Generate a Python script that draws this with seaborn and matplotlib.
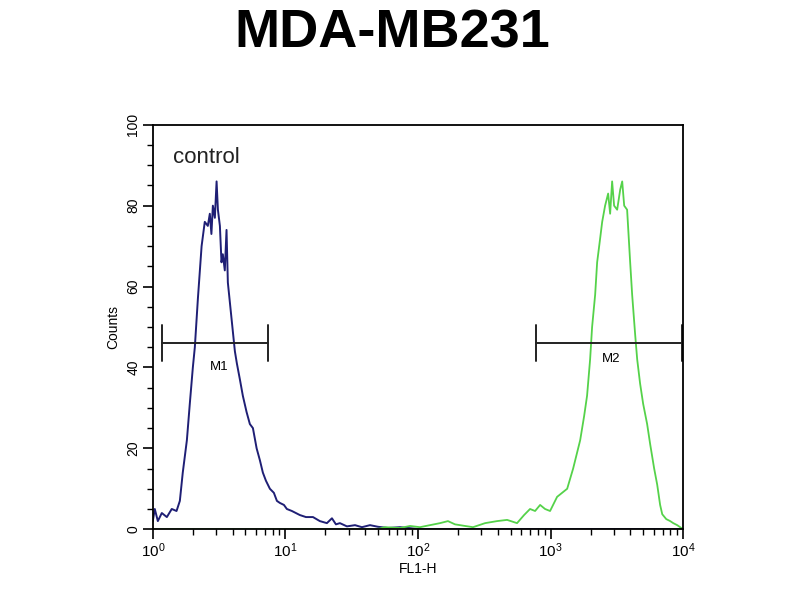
import numpy as np
import pandas as pd
import seaborn as sns
import matplotlib
matplotlib.use("Agg")
from matplotlib import pyplot as plt
from matplotlib.ticker import LogLocator, MultipleLocator

# control histogram (blue): log10(FL1-H) positions and counts
ctrl_log = [0.0, 0.015, 0.038, 0.068, 0.106, 0.143, 0.179, 0.204, 0.226, 0.257,
            0.279, 0.302, 0.317, 0.340, 0.368, 0.392, 0.415, 0.430, 0.442, 0.453,
            0.468, 0.481, 0.491, 0.506, 0.518, 0.528, 0.543, 0.556, 0.566, 0.594,
            0.619, 0.634, 0.657, 0.679, 0.707, 0.732, 0.755, 0.783, 0.808, 0.830,
            0.853, 0.883, 0.913, 0.936, 0.958, 0.989, 1.011, 1.049, 1.079, 1.109,
            1.155, 1.208, 1.260, 1.313, 1.351, 1.381, 1.411, 1.464, 1.525, 1.577,
            1.638, 1.698, 1.774, 1.864, 2.015, 4.0]
ctrl_counts = [2, 5, 2, 4, 3, 5, 4.5, 7, 14, 22,
               31, 40, 45, 57, 70, 76, 75, 78, 73, 80,
               77, 86, 79, 75, 66, 68, 64, 74, 61, 52,
               44, 41, 37, 33, 29, 26, 25, 20, 17, 14,
               12, 10, 9, 7, 6.5, 6, 5, 4.5, 4, 3.5,
               3, 3, 2, 1.5, 2.7, 1.2, 1.5, 0.7, 1, 0.5,
               1, 0.6, 0.3, 0.5, 0, 0]

# MDA-MB231 histogram (green)
samp_log = [0.0, 1.69, 1.75, 1.864, 1.94, 2.015, 2.09, 2.166, 2.226, 2.279,
            2.355, 2.415, 2.506, 2.596, 2.672, 2.747, 2.80, 2.845, 2.883, 2.921,
            2.958, 2.996, 3.049, 3.087, 3.125, 3.17, 3.223, 3.253, 3.275, 3.298,
            3.313, 3.336, 3.351, 3.374, 3.389, 3.411, 3.434, 3.449, 3.464, 3.479,
            3.502, 3.525, 3.540, 3.555, 3.577, 3.600, 3.615, 3.638, 3.653, 3.675,
            3.698, 3.728, 3.751, 3.781, 3.804, 3.826, 3.842, 3.872, 3.902, 3.925,
            3.955, 3.977, 4.0]
samp_counts = [0, 0, 0.5, 0.3, 0.8, 0.5, 1, 1.5, 2, 1.2,
               0.8, 0.5, 1.5, 2, 2.3, 1.5, 3.5, 5, 4.5, 6,
               5, 4.5, 8, 9, 10, 15, 22, 28, 33, 42,
               50, 58, 66, 72, 76, 80, 83, 78, 86, 80,
               79, 84, 86, 80, 79, 66, 58, 48, 42, 36,
               31, 26, 21, 15, 11, 6, 3.7, 2.5, 2, 1.5,
               1, 0.5, 0]

# marker gates: name, start, end, height
gate_names = ["M1", "M2"]
gate_start = [1.17, 776]
gate_end = [7.4, 9800]
gate_y = [46, 46]

sns.set_style("white")
plt.rcParams["font.family"] = ["Liberation Sans", "DejaVu Sans"]
plt.rcParams["mathtext.fontset"] = "custom"
plt.rcParams["mathtext.rm"] = "Liberation Sans"
plt.rcParams["mathtext.it"] = "Liberation Sans"
plt.rcParams["text.color"] = "black"
plt.rcParams["axes.labelcolor"] = "black"
plt.rcParams["xtick.color"] = "black"
plt.rcParams["ytick.color"] = "black"

ctrl = pd.DataFrame({"x": 10 ** np.array(ctrl_log), "y": ctrl_counts})
samp = pd.DataFrame({"x": 10 ** np.array(samp_log), "y": samp_counts})

fig = plt.figure(figsize=(8, 6), dpi=100)
ax = fig.add_axes([0.191, 0.118, 0.663, 0.674])

sns.lineplot(data=ctrl, x="x", y="y", ax=ax, color="#1f1f75", lw=1.4,
             estimator=None, sort=False)
sns.lineplot(data=samp, x="x", y="y", ax=ax, color="#55d24a", lw=1.3,
             estimator=None, sort=False)

ax.set_xscale("log")
ax.set_xlim(1, 1e4)
ax.set_ylim(0, 100)
ax.xaxis.set_major_locator(LogLocator(base=10))
ax.xaxis.set_minor_locator(LogLocator(base=10, subs=np.arange(2, 10)))
ax.yaxis.set_major_locator(MultipleLocator(20))
ax.yaxis.set_minor_locator(MultipleLocator(5))
ax.tick_params(which="major", direction="out", length=7, width=1.2,
               labelsize=11, left=True, bottom=True, pad=2)
ax.tick_params(which="minor", direction="out", length=4, width=1.0,
               left=True, bottom=True)
ax.tick_params(axis="y", labelsize=10)
for lab in ax.get_yticklabels():
    lab.set_rotation(90)
    lab.set_va("center")
for s in ax.spines.values():
    s.set_color("black")
    s.set_linewidth(1.3)

ax.set_xlabel("FL1-H", fontsize=10, labelpad=1)
ax.set_ylabel("Counts", fontsize=10, labelpad=4)

for name, a, b, h in zip(gate_names, gate_start, gate_end, gate_y):
    ax.plot([a, b], [h, h], color="#222222", lw=1.4)
    ax.plot([a, a], [h - 4.5, h + 4.5], color="#222222", lw=1.4)
    ax.plot([b, b], [h - 4.5, h + 4.5], color="#222222", lw=1.4)
mid1 = 10 ** 0.5
mid2 = 10 ** 3.46
ax.text(mid1, 40, gate_names[0], fontsize=9.5, ha="center", va="center")
ax.text(mid2, 42, gate_names[1], fontsize=9.5, ha="center", va="center")

ax.text(1.41, 92, "control", fontsize=16, ha="left", va="center", color="#222222")

fig.text(0.49, 0.945, "MDA-MB231", fontsize=39, fontweight="bold",
         ha="center", va="center")

fig.savefig("out.png", dpi=100)
